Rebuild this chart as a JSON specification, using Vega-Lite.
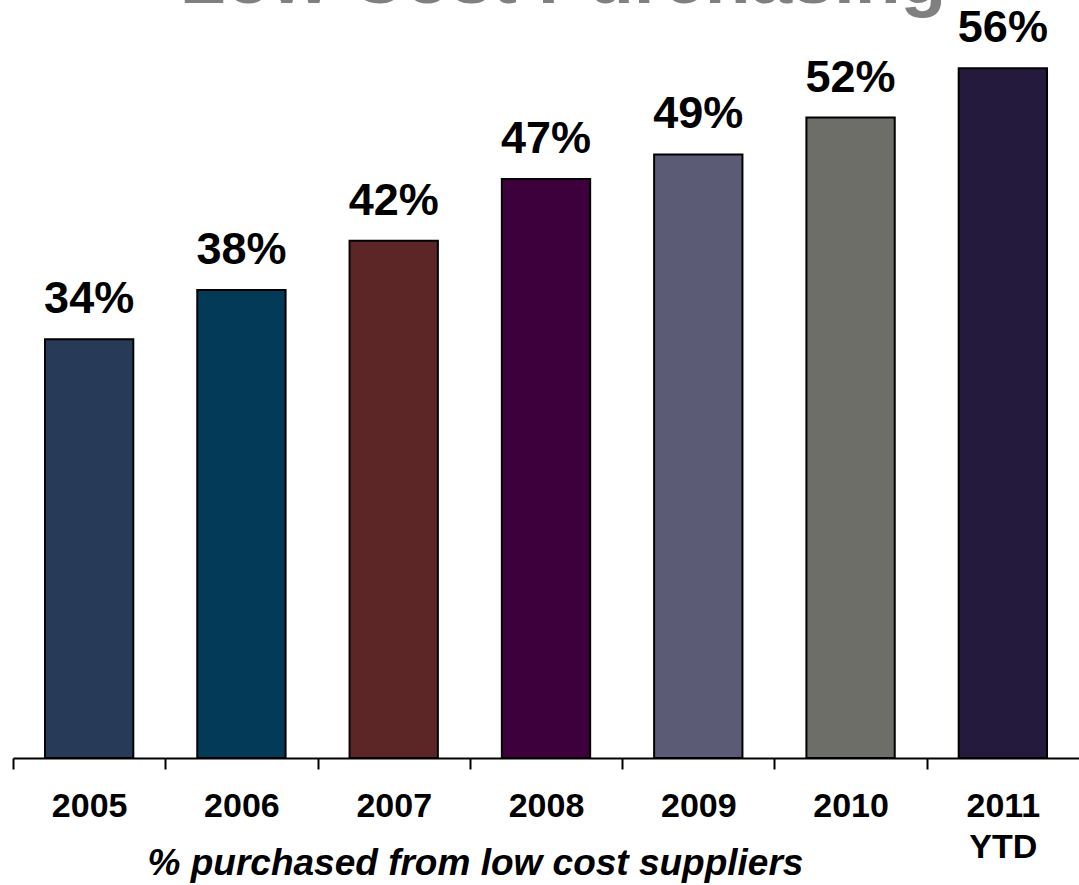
{
  "$schema": "https://vega.github.io/schema/vega-lite/v6.json",
  "width": 1066,
  "height": 739,
  "autosize": {"type": "none"},
  "padding": {"left": 13, "top": 19, "right": 0, "bottom": 127},
  "background": "white",
  "title": {
    "text": "Low Cost Purchasing",
    "font": "Liberation Sans",
    "fontSize": 75,
    "fontWeight": "bold",
    "color": "#808080",
    "baseline": "alphabetic",
    "anchor": "middle",
    "frame": "group",
    "offset": 0,
    "dy": 72,
    "dx": 17
  },
  "config": {"view": {"stroke": null}},
  "data": {
    "values": [
      {"year": "2005", "share": 0.34},
      {"year": "2006", "share": 0.38},
      {"year": "2007", "share": 0.42},
      {"year": "2008", "share": 0.47},
      {"year": "2009", "share": 0.49},
      {"year": "2010", "share": 0.52},
      {"year": "2011 YTD", "share": 0.56}
    ]
  },
  "encoding": {
    "x": {
      "field": "year",
      "type": "nominal",
      "sort": null,
      "scale": {"paddingInner": 0.42, "paddingOuter": 0.21},
      "axis": {
        "title": "% purchased from low cost suppliers",
        "titleFont": "Liberation Sans",
        "titleFontSize": 37,
        "titleFontWeight": "bold",
        "titleFontStyle": "italic",
        "titleColor": "black",
        "titleX": 462,
        "titleY": 116,
        "titleAlign": "center",
        "titleBaseline": "alphabetic",
        "labelExpr": "split(datum.label, ' ')",
        "labelAngle": 0,
        "labelFont": "Liberation Sans",
        "labelFontSize": 34,
        "labelFontWeight": "bold",
        "labelColor": "black",
        "labelBaseline": "top",
        "labelPadding": 20,
        "labelLineHeight": 41,
        "labelOffset": 32,
        "bandPosition": 0,
        "tickOffset": -32,
        "domainColor": "black",
        "domainWidth": 2,
        "tickColor": "black",
        "tickWidth": 2,
        "tickSize": 11,
        "grid": false
      }
    }
  },
  "layer": [
    {
      "mark": {"type": "bar", "stroke": "black", "strokeWidth": 2},
      "encoding": {
        "y": {"field": "share", "type": "quantitative", "scale": {"domain": [0, 0.6]}, "axis": null},
        "color": {
          "field": "year",
          "type": "nominal",
          "legend": null,
          "scale": {
            "domain": ["2005", "2006", "2007", "2008", "2009", "2010", "2011 YTD"],
            "range": ["#273A58", "#033A57", "#5C2626", "#3E003C", "#5B5B76", "#6E6E68", "#231A3E"]
          }
        }
      }
    },
    {
      "mark": {"type": "text", "font": "Liberation Sans", "fontSize": 45, "fontWeight": "bold", "color": "black", "baseline": "alphabetic", "dy": -26},
      "encoding": {
        "y": {"field": "share", "type": "quantitative", "scale": {"domain": [0, 0.6]}, "axis": null},
        "text": {"field": "share", "type": "quantitative", "format": ".0%"}
      }
    }
  ]
}
